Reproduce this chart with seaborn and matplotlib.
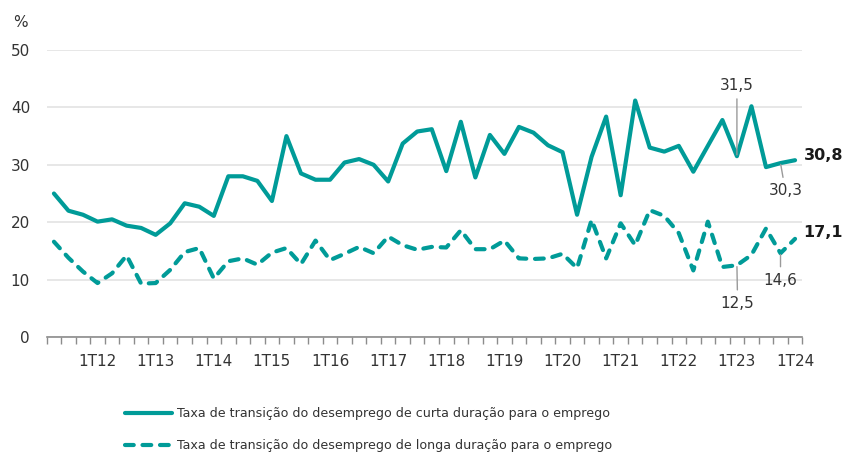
import matplotlib
matplotlib.use("Agg")
import matplotlib.pyplot as plt
import seaborn as sns
import numpy as np
import pandas as pd

# quarters from 2T11 to 1T24
quarters = [f"{q}T{y:02d}" for y in range(11, 25) for q in range(1, 5)][1:53]

short_term = [25.0, 22.0, 21.3, 20.1, 20.5, 19.4, 19.0, 17.8, 19.8, 23.3,
              22.7, 21.1, 28.0, 28.0, 27.2, 23.7, 35.0, 28.5, 27.4, 27.4,
              30.4, 31.0, 30.0, 27.1, 33.7, 35.8, 36.2, 28.9, 37.5, 27.8,
              35.2, 31.9, 36.6, 35.6, 33.4, 32.2, 21.3, 31.4, 38.4, 24.7,
              41.2, 33.0, 32.3, 33.3, 28.8, 33.3, 37.8, 31.5, 40.2, 29.6,
              30.3, 30.8]

long_term = [16.6, 13.8, 11.4, 9.4, 11.1, 14.2, 9.3, 9.4, 11.7, 14.8,
             15.5, 10.2, 13.2, 13.7, 12.6, 14.7, 15.5, 12.7, 16.8, 13.4,
             14.5, 15.7, 14.6, 17.5, 16.0, 15.2, 15.7, 15.6, 18.6, 15.3,
             15.3, 16.8, 13.7, 13.6, 13.7, 14.5, 12.0, 20.4, 13.7, 19.8,
             16.0, 22.1, 21.1, 18.1, 11.6, 20.1, 12.2, 12.5, 14.3, 18.9,
             14.6, 17.1]

series_names = ["Taxa de transição do desemprego de curta duração para o emprego",
                "Taxa de transição do desemprego de longa duração para o emprego"]

TEAL = "#009b98"
TXT = "#333333"

sns.set_style("white")
plt.rcParams["font.family"] = ["DejaVu Sans"]

df = pd.DataFrame({
    "idx": list(range(len(quarters))) * 2,
    "valor": short_term + long_term,
    "serie": [series_names[0]] * len(quarters) + [series_names[1]] * len(quarters),
})

fig = plt.figure(figsize=(8.44, 4.55), dpi=100)
ax = fig.add_axes([0.0553, 0.2593, 0.8953, 0.6308])

sns.lineplot(data=df, x="idx", y="valor", style="serie", color=TEAL,
             dashes={series_names[0]: "", series_names[1]: (2.1, 2.1)},
             linewidth=3.0, legend=False, ax=ax)
for ln in ax.get_lines():
    ln.set_dash_capstyle("round")
    ln.set_solid_capstyle("round")

ax.set_xlim(-0.5, len(quarters) - 0.5)
ax.set_ylim(0, 50)
ax.set_yticks(range(0, 51, 10))
ax.set_xlabel("")
ax.set_ylabel("")

major = [i for i, q in enumerate(quarters) if q.startswith("1T")]
ax.set_xticks(major)
ax.set_xticklabels([quarters[i] for i in major])
ax.set_xticks(np.arange(-0.5, len(quarters), 1), minor=True)
ax.tick_params(axis="x", which="both", bottom=True)
ax.tick_params(axis="x", which="major", length=0, pad=12, labelsize=11, labelcolor=TXT)
ax.tick_params(axis="x", which="minor", length=5, width=1, color="#8c8c8c", direction="out")
ax.tick_params(axis="y", length=0, pad=12, labelsize=11, labelcolor=TXT)

ax.yaxis.grid(True, color="#e3e3e3", lw=1.2)
ax.xaxis.grid(False)
for s in ["top", "right", "left"]:
    ax.spines[s].set_visible(False)
ax.spines["bottom"].set_color("#8c8c8c")
ax.spines["bottom"].set_linewidth(1.2)
ax.set_axisbelow(True)

fig.text(0.024, 0.950, "%", fontsize=11, color=TXT, ha="center", va="center")

# annotations
n = len(quarters)
arrow = dict(arrowstyle="-", color="#9a9a9a", lw=1, shrinkA=2, shrinkB=1)
ax.annotate("31,5", xy=(n - 5, short_term[-5]), xytext=(0, 51), textcoords="offset points",
            ha="center", va="center", fontsize=11, color=TXT, arrowprops=arrow)
ax.annotate("30,3", xy=(n - 2, short_term[-2]), xytext=(3.5, -20), textcoords="offset points",
            ha="center", va="center", fontsize=11, color=TXT, arrowprops=arrow)
ax.annotate("12,5", xy=(n - 5, long_term[-5]), xytext=(0.5, -27.5), textcoords="offset points",
            ha="center", va="center", fontsize=11, color=TXT, arrowprops=arrow)
ax.annotate("14,6", xy=(n - 2, long_term[-2]), xytext=(0, -19.5), textcoords="offset points",
            ha="center", va="center", fontsize=11, color=TXT, arrowprops=arrow)
ax.annotate("30,8", xy=(n - 1, short_term[-1]), xytext=(6.5, 3.2), textcoords="offset points",
            ha="left", va="center", fontsize=11.5, fontweight="bold", color="#1a1a1a")
ax.annotate("17,1", xy=(n - 1, long_term[-1]), xytext=(5.8, 4.7), textcoords="offset points",
            ha="left", va="center", fontsize=11.5, fontweight="bold", color="#1a1a1a")

lines = ax.get_lines()[:2]
leg = fig.legend(lines, series_names, loc="upper left", bbox_to_anchor=(0.148, 0.105),
                 frameon=False, fontsize=9.1, handlelength=3.7, handletextpad=0.45,
                 labelspacing=1.5, borderpad=0, borderaxespad=0)
for t in leg.get_texts():
    t.set_color(TXT)

fig.savefig("out.png", dpi=100)
